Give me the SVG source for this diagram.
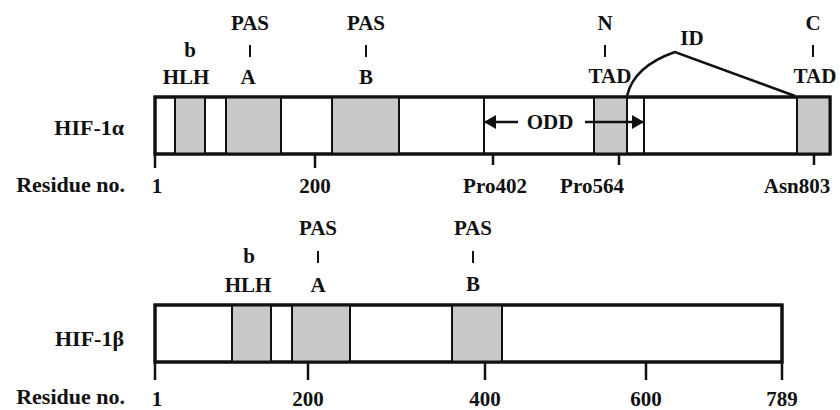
<svg xmlns="http://www.w3.org/2000/svg" width="840" height="410" viewBox="0 0 840 410">
<style>
text{font-family:"Liberation Serif","Times New Roman",serif;font-weight:bold;fill:#111;}
.lbl{font-size:21px;text-anchor:middle;}
.name{font-size:22px;text-anchor:end;}
.num{font-size:21px;text-anchor:middle;}
.box{fill:#fff;stroke:#111;stroke-width:3;}
.sh{fill:#c8c8c8;stroke:#111;stroke-width:2;}
.div{stroke:#111;stroke-width:2;fill:none;}
.tick{stroke:#111;stroke-width:2.5;fill:none;}
.bar{stroke:#111;stroke-width:2;fill:none;}
</style>
<defs>
<marker id="ah" markerWidth="12" markerHeight="14" refX="11" refY="7" orient="auto" markerUnits="userSpaceOnUse">
<path d="M0,0 L12,7 L0,14 Z" fill="#111"/>
</marker>
</defs>

<g id="hif1a">
<rect class="box" x="155" y="97" width="675" height="57"/>
<rect class="sh" x="175" y="97" width="30" height="57"/>
<rect class="sh" x="226" y="97" width="55" height="57"/>
<rect class="sh" x="332" y="97" width="67" height="57"/>
<line class="div" x1="484" y1="97" x2="484" y2="154"/>
<rect class="sh" x="594" y="97" width="33" height="57"/>
<line class="div" x1="644" y1="97" x2="644" y2="154"/>
<rect class="sh" x="797" y="97" width="33" height="57"/>
<rect x="155" y="97" width="675" height="57" fill="none" stroke="#111" stroke-width="3"/>
<text class="name" x="124" y="135">HIF-1α</text>
<text class="name" x="125" y="192">Residue no.</text>
<line class="tick" x1="155" y1="154" x2="155" y2="168"/>
<line class="tick" x1="315" y1="154" x2="315" y2="168"/>
<line class="tick" x1="493" y1="154" x2="493" y2="165"/>
<line class="tick" x1="619" y1="154" x2="619" y2="165"/>
<line class="tick" x1="814" y1="154" x2="814" y2="165"/>
<text class="num" x="157" y="193">1</text>
<text class="num" x="315" y="193">200</text>
<text class="num" x="495" y="193">Pro402</text>
<text class="num" x="592" y="193">Pro564</text>
<text class="num" x="797" y="193">Asn803</text>
<text class="lbl" x="190" y="57">b</text>
<text class="lbl" x="186" y="84">HLH</text>
<text class="lbl" x="250" y="30">PAS</text>
<line class="bar" x1="250" y1="45" x2="250" y2="57"/>
<text class="lbl" x="248" y="84">A</text>
<text class="lbl" x="366" y="30">PAS</text>
<line class="bar" x1="366" y1="45" x2="366" y2="57"/>
<text class="lbl" x="366" y="84">B</text>
<text class="lbl" x="605" y="30">N</text>
<line class="bar" x1="605" y1="45" x2="605" y2="57"/>
<text class="lbl" x="610" y="83">TAD</text>
<text class="lbl" x="813" y="30">C</text>
<line class="bar" x1="813" y1="45" x2="813" y2="57"/>
<text class="lbl" x="815" y="83">TAD</text>
<text class="lbl" x="692" y="45">ID</text>
<text class="lbl" x="550" y="129">ODD</text>
</g>

<g id="hif1b">
<rect class="box" x="155" y="305" width="627" height="57"/>
<rect class="sh" x="232" y="305" width="39" height="57"/>
<rect class="sh" x="292" y="305" width="58" height="57"/>
<rect class="sh" x="452" y="305" width="50" height="57"/>
<rect x="155" y="305" width="627" height="57" fill="none" stroke="#111" stroke-width="3"/>
<text class="name" x="124" y="346">HIF-1β</text>
<text class="name" x="125" y="404">Residue no.</text>
<line class="tick" x1="155" y1="362" x2="155" y2="380"/>
<line class="tick" x1="308" y1="362" x2="308" y2="380"/>
<line class="tick" x1="485" y1="362" x2="485" y2="380"/>
<line class="tick" x1="646" y1="362" x2="646" y2="380"/>
<line class="tick" x1="782" y1="362" x2="782" y2="380"/>
<text class="num" x="157" y="406">1</text>
<text class="num" x="308" y="406">200</text>
<text class="num" x="485" y="406">400</text>
<text class="num" x="646" y="406">600</text>
<text class="num" x="782" y="406">789</text>
<text class="lbl" x="249" y="263">b</text>
<text class="lbl" x="248" y="292">HLH</text>
<text class="lbl" x="318" y="235">PAS</text>
<line class="bar" x1="318" y1="251" x2="318" y2="263"/>
<text class="lbl" x="318" y="292">A</text>
<text class="lbl" x="473" y="235">PAS</text>
<line class="bar" x1="473" y1="251" x2="473" y2="263"/>
<text class="lbl" x="473" y="291">B</text>
</g>

<g id="connectors">
<line x1="518" y1="122" x2="485" y2="122" stroke="#111" stroke-width="2.5" marker-end="url(#ah)"/>
<line x1="585" y1="122" x2="643" y2="122" stroke="#111" stroke-width="2.5" marker-end="url(#ah)"/>
<path d="M627,96 C632,74 652,60 675,52 L795,96" fill="none" stroke="#111" stroke-width="2.5"/>
</g>
</svg>
